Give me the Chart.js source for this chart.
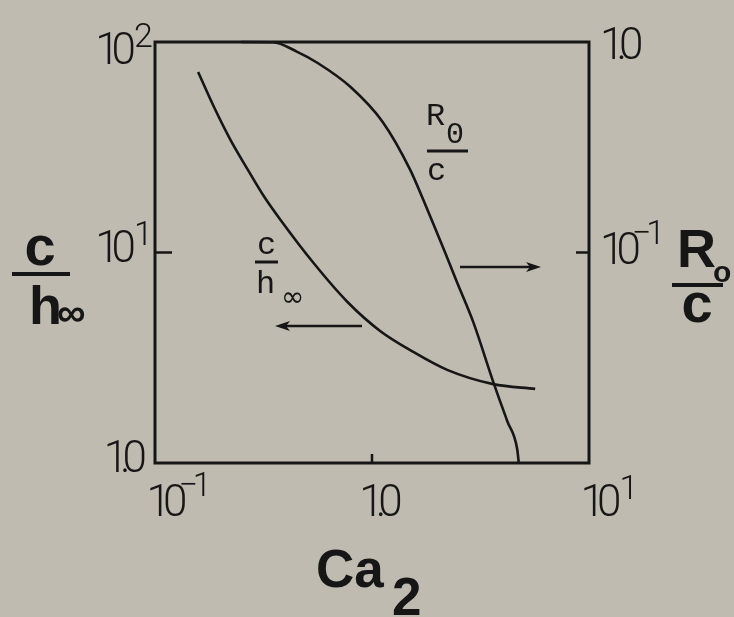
<!DOCTYPE html>
<html>
<head>
<meta charset="utf-8">
<script src="https://cdn.jsdelivr.net/npm/chart.js@4.4.0/dist/chart.umd.min.js"></script>
<style>
  html, body { margin: 0; padding: 0; background: #bfbbb1; }
  #wrap { width: 734px; height: 617px; }
</style>
</head>
<body>
<div id="wrap"><canvas id="ca2Chart" width="734" height="617"></canvas></div>
<script>
// c/h_inf against Ca2 (left axis)
const caH = [0.158, 0.187, 0.223, 0.268, 0.317, 0.379, 0.538, 0.771, 1.09, 1.55, 2.22, 3.62, 5.65];
const cOverH = [72.0, 49.1, 34.2, 24.7, 18.55, 14.27, 8.91, 5.82, 4.24, 3.37, 2.77, 2.37, 2.25];

// R0/c against Ca2 (right axis)
const caR = [0.25, 0.35, 0.45, 0.562, 0.797, 1.12, 1.50, 1.725, 1.918, 2.177, 2.473, 2.929, 3.62, 4.198, 4.667, 4.742];
const rOverC = [1.0, 0.998, 0.90, 0.795, 0.611, 0.417, 0.247, 0.1776, 0.1366, 0.0994, 0.0716, 0.0467, 0.0243, 0.01583, 0.01165, 0.0101];

// tick labels: value, mantissa, exponent
const xTicks = [[0.1, '10', '−1'], [1, '1.0', ''], [10, '10', '1']];
const yLeftTicks = [[100, '10', '2'], [10, '10', '1'], [1, '1.0', '']];
const yRightTicks = [[1, '1.0', ''], [0.1, '10', '−1']];

const INK = '#161616';
const TICK_FONT = '300 44px Roboto, "Liberation Sans", sans-serif';
const EXP_FONT = '300 34px Roboto, "Liberation Sans", sans-serif';
const TITLE = '"Liberation Sans", Arial, sans-serif';
const MONO = '"Liberation Mono", "DejaVu Sans Mono", monospace';

function drawPow(ctx, base, exp, x, y, align) {
  ctx.letterSpacing = '-8px';
  ctx.font = TICK_FONT;
  const w = ctx.measureText(base).width;
  const x0 = align === 'right' ? x - w : align === 'center' ? x - w / 2 : x;
  ctx.textAlign = 'left';
  ctx.textBaseline = 'middle';
  ctx.fillText(base, x0, y);
  if (exp) {
    ctx.font = EXP_FONT;
    ctx.letterSpacing = '-5px';
    ctx.textBaseline = 'alphabetic';
    // negative exponents tuck in against the zero
    const neg = exp.startsWith('−');
    ctx.fillText(exp, x0 + w + (neg ? -1 : 6), y - (neg ? 9 : 6));
  }
  ctx.letterSpacing = '0px';
}

function arrow(ctx, x1, x2, y) {
  const dir = Math.sign(x2 - x1);
  ctx.lineWidth = 2.4;
  ctx.beginPath();
  ctx.moveTo(x1, y);
  ctx.lineTo(x2 - dir * 8, y);
  ctx.stroke();
  ctx.beginPath();
  ctx.moveTo(x2, y);
  ctx.lineTo(x2 - dir * 15, y - 5);
  ctx.lineTo(x2 - dir * 11, y);
  ctx.lineTo(x2 - dir * 15, y + 5);
  ctx.closePath();
  ctx.fill();
}

const paper = {
  id: 'paper',
  beforeDraw(chart) {
    const ctx = chart.ctx;
    ctx.save();
    ctx.fillStyle = '#bfbbb1';
    ctx.fillRect(0, 0, chart.width, chart.height);
    ctx.restore();
  }
};

const frame = {
  id: 'frame',
  afterDatasetsDraw(chart) {
    const ctx = chart.ctx;
    const { left, right, top, bottom } = chart.chartArea;
    const sx = chart.scales.x, sy = chart.scales.y, sr = chart.scales.y2;
    ctx.save();
    ctx.strokeStyle = INK;
    ctx.fillStyle = INK;

    // box
    ctx.lineWidth = 3;
    ctx.strokeRect(left, top, right - left, bottom - top);

    // inward ticks at the middle decades
    ctx.lineWidth = 2.5;
    ctx.beginPath();
    const yt = sy.getPixelForValue(10);
    ctx.moveTo(left, yt); ctx.lineTo(left + 17, yt);
    const xt = sx.getPixelForValue(1);
    ctx.moveTo(xt, bottom); ctx.lineTo(xt, bottom - 9);
    const rt = sr.getPixelForValue(0.1);
    ctx.moveTo(right, rt); ctx.lineTo(right - 13, rt);
    ctx.stroke();

    // tick labels
    yLeftTicks.forEach(([v, b, e]) => {
      const y = Math.max(sy.getPixelForValue(v), top + 13) - 2;
      drawPow(ctx, b, e, left - (e ? 27 : 16), y, 'right');
    });
    xTicks.forEach(([v, b, e]) => {
      const x = sx.getPixelForValue(v) + (e ? 8 : 5);
      drawPow(ctx, b, e, x, bottom + 42, 'center');
    });
    yRightTicks.forEach(([v, b, e]) => {
      const y = Math.max(sr.getPixelForValue(v), top + 6);
      drawPow(ctx, b, e, right + 11, y, 'left');
    });

    // axis titles
    ctx.textBaseline = 'alphabetic';
    ctx.textAlign = 'left';
    ctx.font = `bold 53px ${TITLE}`;
    ctx.fillText('Ca', 316, 587);
    ctx.fillText('2', 392, 615);

    ctx.textAlign = 'center';
    ctx.font = `bold 56px ${TITLE}`;
    ctx.fillText('c', 40, 265);
    ctx.lineWidth = 4;
    ctx.beginPath(); ctx.moveTo(12, 274); ctx.lineTo(70, 274); ctx.stroke();
    ctx.textAlign = 'left';
    ctx.font = `bold 54px ${TITLE}`;
    ctx.fillText('h', 29, 324);
    ctx.font = `bold 40px ${TITLE}`;
    ctx.fillText('∞', 57, 326);

    ctx.font = `bold 54px ${TITLE}`;
    ctx.fillText('R', 677, 267);
    ctx.font = `bold 30px ${TITLE}`;
    ctx.fillText('o', 713, 282);
    ctx.beginPath(); ctx.moveTo(672, 285); ctx.lineTo(723, 285); ctx.stroke();
    ctx.textAlign = 'center';
    ctx.font = `bold 56px ${TITLE}`;
    ctx.fillText('c', 697, 322);

    // curve labels
    ctx.textAlign = 'left';
    ctx.font = `32px ${MONO}`;
    ctx.fillText('R', 426, 125);
    ctx.font = `30px ${MONO}`;
    ctx.fillText('0', 446, 143);
    ctx.lineWidth = 3;
    ctx.beginPath(); ctx.moveTo(427, 151); ctx.lineTo(468, 151); ctx.stroke();
    ctx.font = `32px ${MONO}`;
    ctx.fillText('c', 427, 180);

    ctx.fillText('c', 257, 254);
    ctx.beginPath(); ctx.moveTo(255, 262); ctx.lineTo(278, 262); ctx.stroke();
    ctx.fillText('h', 256, 293);
    ctx.font = `28px "DejaVu Sans", sans-serif`;
    ctx.fillText('∞', 281, 306);

    // which axis each curve belongs to
    arrow(ctx, 460, 541, 267);
    arrow(ctx, 362, 275, 326);

    ctx.restore();
  }
};

const curve = {
  borderColor: INK,
  borderWidth: 2.6,
  pointRadius: 0,
  fill: false,
  cubicInterpolationMode: 'monotone',
  clip: false
};

new Chart(document.getElementById('ca2Chart').getContext('2d'), {
  type: 'line',
  data: {
    datasets: [
      { ...curve, label: 'c/h∞', yAxisID: 'y', data: caH.map((x, i) => ({ x, y: cOverH[i] })) },
      { ...curve, label: 'R0/c', yAxisID: 'y2', data: caR.map((x, i) => ({ x, y: rOverC[i] })) }
    ]
  },
  options: {
    responsive: false,
    animation: false,
    devicePixelRatio: 1,
    layout: { padding: { left: 155, top: 42, right: 145, bottom: 154 } },
    plugins: { legend: { display: false }, tooltip: { enabled: false } },
    scales: {
      x: { type: 'logarithmic', min: 0.1, max: 10, display: false },
      y: { type: 'logarithmic', min: 1, max: 100, display: false },
      y2: { type: 'logarithmic', min: 0.01, max: 1, display: false, position: 'right' }
    }
  },
  plugins: [paper, frame]
});
</script>
</body>
</html>
